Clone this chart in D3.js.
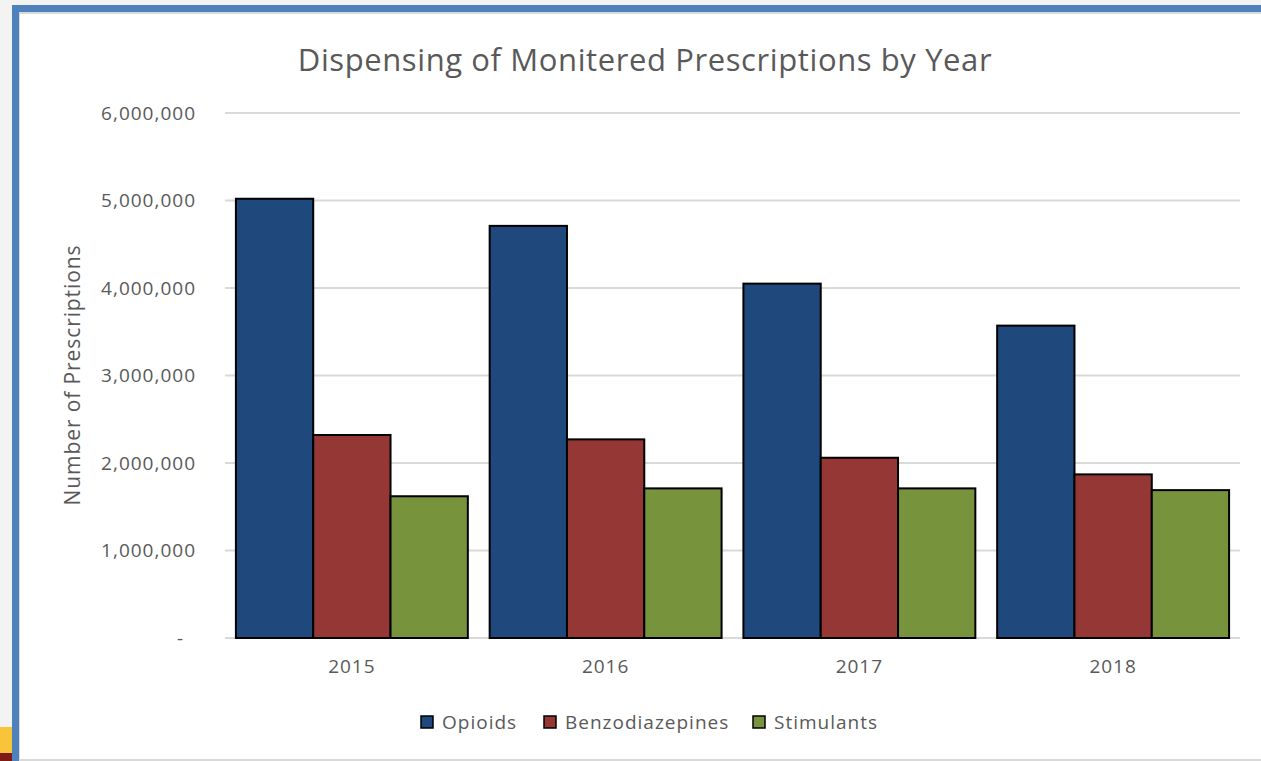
<!DOCTYPE html>
<html>
<head>
<meta charset="utf-8">
<script src="https://cdn.jsdelivr.net/npm/d3@7"></script>
<style>
  html, body { margin: 0; padding: 0; background: #f3f3f3; }
  svg { display: block; font-family: 'Open Sans', sans-serif; }
</style>
</head>
<body>
<script>
const years = ['2015', '2016', '2017', '2018'];
const seriesNames = ['Opioids', 'Benzodiazepines', 'Stimulants'];
const opioids = [5020000, 4710000, 4050000, 3570000];
const benzodiazepines = [2320000, 2270000, 2060000, 1870000];
const stimulants = [1620000, 1710000, 1710000, 1690000];
const yTicks = [0, 1000000, 2000000, 3000000, 4000000, 5000000, 6000000];

const colors = ['#1f497d', '#953735', '#77933c'];
const seriesValues = [opioids, benzodiazepines, stimulants];

const W = 1261, H = 761;
const svg = d3.select('body').append('svg')
  .attr('width', W)
  .attr('height', H);

// slide frame around the chart
svg.append('rect').attr('x', 0).attr('y', 727).attr('width', 12).attr('height', 26).attr('fill', '#f8c53a');
svg.append('rect').attr('x', 0).attr('y', 753).attr('width', 12).attr('height', 8).attr('fill', '#7f1a1a');
svg.append('rect').attr('x', 12).attr('y', 5).attr('width', W).attr('height', H).attr('fill', '#4f81bd');
svg.append('rect').attr('x', 19).attr('y', 12).attr('width', W).attr('height', H).attr('fill', '#d9d9d9');
svg.append('rect').attr('x', 20).attr('y', 14).attr('width', W).attr('height', 745).attr('fill', '#ffffff');

const margin = {top: 113, right: 21, bottom: 123, left: 225};
const width = W - margin.left - margin.right;
const height = H - margin.top - margin.bottom;

const x = d3.scaleBand()
  .domain(years)
  .range([0, width])
  .paddingInner(0.086)
  .paddingOuter(0.043);

const x1 = d3.scaleBand()
  .domain(seriesNames)
  .range([0, x.bandwidth()]);

const y = d3.scaleLinear()
  .domain([0, 6000000])
  .range([height, 0]);

const g = svg.append('g')
  .attr('transform', 'translate(' + margin.left + ',' + margin.top + ')');

// gridlines
g.append('g')
  .selectAll('line')
  .data(yTicks)
  .join('line')
  .attr('x1', 0)
  .attr('x2', width)
  .attr('y1', d => y(d))
  .attr('y2', d => y(d))
  .attr('stroke', '#d9d9d9')
  .attr('stroke-width', 2);

// y axis labels
const fmt = d3.format(',');
const yAxis = g.append('g')
  .attr('transform', 'translate(-26,0)')
  .call(d3.axisLeft(y).tickValues(yTicks).tickSize(0).tickFormat(d => d === 0 ? '-' : fmt(d)));
yAxis.select('.domain').remove();
yAxis.selectAll('text')
  .attr('fill', '#595959')
  .attr('font-size', 19)
  .attr('letter-spacing', 1)
  .attr('font-family', "'Open Sans', sans-serif")
  .attr('dx', d => d === 0 ? -12 : 0);

// bars
const groups = g.append('g')
  .selectAll('g')
  .data(years)
  .join('g')
  .attr('transform', d => 'translate(' + x(d) + ',0)');

groups.selectAll('rect')
  .data((yr, i) => seriesNames.map((name, s) => ({name, s, value: seriesValues[s][i]})))
  .join('rect')
  .attr('x', d => x1(d.name))
  .attr('y', d => y(d.value))
  .attr('width', x1.bandwidth())
  .attr('height', d => height - y(d.value))
  .attr('fill', d => colors[d.s])
  .attr('stroke', '#000')
  .attr('stroke-width', 2);

// x axis labels
const xAxis = g.append('g')
  .attr('transform', 'translate(0,' + height + ')')
  .call(d3.axisBottom(x).tickSize(0).tickPadding(22));
xAxis.select('.domain').remove();
xAxis.selectAll('text')
  .attr('fill', '#595959')
  .attr('font-size', 19)
  .attr('letter-spacing', 1)
  .attr('font-family', "'Open Sans', sans-serif");

// title
svg.append('text')
  .attr('x', 645)
  .attr('y', 71)
  .attr('text-anchor', 'middle')
  .attr('fill', '#595959')
  .attr('font-size', 31)
  .attr('letter-spacing', 0.6)
  .text('Dispensing of Monitered Prescriptions by Year');

// y axis title
svg.append('text')
  .attr('transform', 'translate(80,375) rotate(-90)')
  .attr('text-anchor', 'middle')
  .attr('fill', '#595959')
  .attr('font-size', 21)
  .attr('letter-spacing', 0.9)
  .text('Number of Prescriptions');

// legend
const legendX = [421, 544, 753];
const legend = svg.append('g')
  .selectAll('g')
  .data(seriesNames)
  .join('g')
  .attr('transform', (d, i) => 'translate(' + legendX[i] + ',716)');
legend.append('rect')
  .attr('width', 12)
  .attr('height', 12)
  .attr('fill', (d, i) => colors[i])
  .attr('stroke', '#000')
  .attr('stroke-width', 1.5);
legend.append('text')
  .attr('x', 21)
  .attr('y', 13)
  .attr('fill', '#595959')
  .attr('font-size', 19)
  .attr('letter-spacing', 1)
  .text(d => d);
</script>
</body>
</html>
